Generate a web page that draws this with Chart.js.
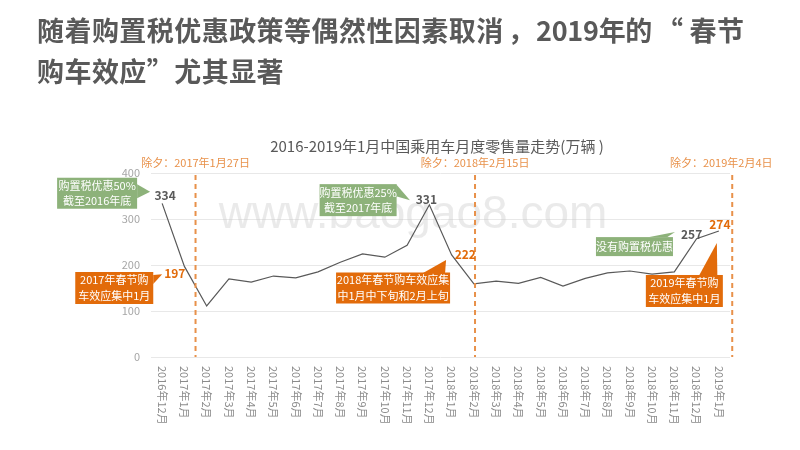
<!DOCTYPE html>
<html>
<head>
<meta charset="utf-8">
<script src="https://cdn.jsdelivr.net/npm/chart.js@4/dist/chart.umd.min.js"></script>
<style>
  body { margin: 0; background: #fff; }
  #wrap { position: relative; width: 800px; height: 450px; overflow: hidden; }
  #title {
    position: absolute; left: 37px; top: 9px;
    font-family: "Noto Sans CJK SC", sans-serif; font-weight: bold;
    font-size: 27px; line-height: 41px; color: #595959; white-space: nowrap;
    letter-spacing: 0.45px;
  }
  #title .cm { margin: 0 1px 0 4px; }
  #title .yr { letter-spacing: -0.3px; }
  #title .q { margin: 0 6px 0 4px; }
  canvas { position: absolute; left: 0; top: 0; }
</style>
</head>
<body>
<div id="wrap">
  <canvas id="chart" width="800" height="450"></canvas>
  <div id="title">随着购置税优惠政策等偶然性因素取消<span class="cm">，</span><span class="yr">2019年的</span><span class="q">“</span>春节<br>购车效应”尤其显著</div>
</div>
<script>
// 月份と販売量
const months = [
  "2016年12月", "2017年1月", "2017年2月", "2017年3月", "2017年4月", "2017年5月",
  "2017年6月", "2017年7月", "2017年8月", "2017年9月", "2017年10月", "2017年11月",
  "2017年12月", "2018年1月", "2018年2月", "2018年3月", "2018年4月", "2018年5月",
  "2018年6月", "2018年7月", "2018年8月", "2018年9月", "2018年10月", "2018年11月",
  "2018年12月", "2019年1月"
];
const sales = [334, 197, 111, 170, 163, 176, 172, 185, 206, 224, 217, 243,
               331, 222, 159, 165, 160, 173, 154, 171, 183, 187, 180, 185, 257, 274];
const yTicks = [0, 100, 200, 300, 400];

// 除夕の位置 (月のインデックス上)
const eveNames = ["除夕：2017年1月27日", "除夕：2018年2月15日", "除夕：2019年2月4日"];
const eveAt = [1.5, 14.05, 25.6];

// 数値ラベルを付ける点
const labelIdx = [0, 1, 12, 13, 24, 25];

const FONT = '"Noto Sans CJK SC", sans-serif';
const GRAY = "#595959";
const ORANGE = "#E26B0A";
const GREEN = "#8DB27A";

// ラベルの置き方
const labelStyle = {
  0:  { color: GRAY,   align: "center", dx: 3,  dy: -8 },
  1:  { color: ORANGE, align: "right",  dx: 1,  dy: 7 },
  12: { color: GRAY,   align: "center", dx: -3, dy: -5 },
  13: { color: ORANGE, align: "left",   dx: 3,  dy: 0 },
  24: { color: GRAY,   align: "center", dx: -5, dy: -4 },
  25: { color: ORANGE, align: "center", dx: 1,  dy: -7 }
};

// 吹き出し (中心と先端はデータ座標)
const callouts = [
  { lines: ["购置税优惠50%", "截至2016年底"], color: GREEN, c: [-2.92, 356], w: 80, h: 31,
    base: [[40, -9], [40, 5]], tip: [-0.54, 359] },
  { lines: ["2017年春节购", "车效应集中1月"], color: ORANGE, c: [-2.15, 150], w: 78, h: 32,
    base: [[39, -13], [39, -4]], tip: [0, 180] },
  { lines: ["购置税优惠25%", "截至2017年底"], color: GREEN, c: [8.8, 341], w: 77, h: 32,
    base: [[38, -16], [38, -4]], tip: [11.13, 341] },
  { lines: ["2018年春节购车效应集", "中1月中下旬和2月上旬"], color: ORANGE, c: [10.37, 150], w: 114, h: 31,
    base: [[30, -15], [52, -15]], tip: [12.75, 211] },
  { lines: ["没有购置税优惠"], color: GREEN, c: [21.21, 240], w: 77, h: 19,
    base: [[15, -9.5], [33, -9.5]], tip: [23.03, 272] },
  { lines: ["2019年春节购", "车效应集中1月"], color: ORANGE, c: [23.45, 143.5], w: 77, h: 32,
    base: [[15, -16], [33, -16]], tip: [24.91, 248] }
];

const extras = {
  id: "extras",
  beforeDatasetsDraw(chart) {
    const ctx = chart.ctx;
    ctx.save();
    ctx.font = "46px 'Liberation Sans', sans-serif";
    ctx.fillStyle = "rgba(200,200,200,0.38)";
    ctx.textAlign = "center";
    ctx.textBaseline = "alphabetic";
    ctx.fillText("www.baogao8.com", 413, 228);
    ctx.restore();
  },
  afterDatasetsDraw(chart) {
    const ctx = chart.ctx;
    const xs = chart.scales.x, ys = chart.scales.y;
    const px = i => xs.getPixelForValue(i);
    const py = v => ys.getPixelForValue(v);
    const area = chart.chartArea;

    ctx.save();
    // チャートタイトル
    ctx.fillStyle = GRAY;
    ctx.font = "15px " + FONT;
    ctx.textAlign = "center";
    ctx.textBaseline = "middle";
    ctx.fillText("2016-2019年1月中国乘用车月度零售量走势(万辆 )", 437, 146);

    // 除夕の点線
    ctx.strokeStyle = "#E8914A";
    ctx.lineWidth = 2;
    ctx.setLineDash([5, 4]);
    eveAt.forEach((at, k) => {
      const x = px(at);
      ctx.beginPath();
      ctx.moveTo(x, area.top + 2);
      ctx.lineTo(x, area.bottom);
      ctx.stroke();
      ctx.fillStyle = "#E8914A";
      ctx.font = "11px " + FONT;
      ctx.textAlign = "center";
      ctx.fillText(eveNames[k], k === 2 ? x - 11 : x, area.top - 10);
    });
    ctx.setLineDash([]);

    // 数値ラベル
    ctx.font = "bold 12px " + FONT;
    labelIdx.forEach(i => {
      const s = labelStyle[i];
      ctx.fillStyle = s.color;
      ctx.textAlign = s.align;
      ctx.textBaseline = "middle";
      ctx.fillText(String(sales[i]), px(i) + s.dx, py(sales[i]) + s.dy);
    });

    // 吹き出し
    callouts.forEach(b => {
      const cx = px(b.c[0]), cy = py(b.c[1]);
      ctx.fillStyle = b.color;
      ctx.fillRect(cx - b.w / 2, cy - b.h / 2, b.w, b.h);
      ctx.beginPath();
      ctx.moveTo(cx + b.base[0][0], cy + b.base[0][1]);
      ctx.lineTo(px(b.tip[0]), py(b.tip[1]));
      ctx.lineTo(cx + b.base[1][0], cy + b.base[1][1]);
      ctx.closePath();
      ctx.fill();
      ctx.fillStyle = "#fff";
      ctx.font = "11px " + FONT;
      ctx.textAlign = "center";
      ctx.textBaseline = "middle";
      const n = b.lines.length;
      b.lines.forEach((t, j) => {
        ctx.fillText(t, cx, cy + (j - (n - 1) / 2) * 15.5);
      });
    });

    // X軸ラベル (上から下へ縦書き)
    ctx.fillStyle = "#8C8C8C";
    ctx.font = "11px " + FONT;
    ctx.textAlign = "left";
    ctx.textBaseline = "middle";
    months.forEach((m, i) => {
      ctx.save();
      ctx.translate(px(i), area.bottom + 9);
      ctx.rotate(Math.PI / 2);
      ctx.fillText(m, 0, 0);
      ctx.restore();
    });
    ctx.restore();
  }
};

window.addEventListener("load", function() {
  let ctx = document.getElementById("chart").getContext("2d");
  new Chart(ctx, {
    type: "line",
    data: {
      labels: months,
      datasets: [{
        data: sales,
        borderColor: GRAY,
        borderWidth: 1.2,
        pointRadius: 0,
        tension: 0,
        fill: false
      }]
    },
    options: {
      responsive: false,
      animation: false,
      devicePixelRatio: 1,
      layout: { padding: { left: 111, right: 70, top: 173, bottom: 93 } },
      plugins: { legend: { display: false }, tooltip: { enabled: false } },
      scales: {
        x: {
          offset: true,
          grid: { display: false },
          border: { display: false },
          ticks: { display: false },
          afterFit: s => { s.height = 0; }
        },
        y: {
          min: 0, max: 400,
          afterBuildTicks: s => { s.ticks = yTicks.map(v => ({ value: v })); },
          grid: { color: "#E8E8E8", drawTicks: false },
          border: { display: false },
          ticks: { color: "#A6A6A6", font: { size: 11, family: FONT }, padding: 11 },
          afterFit: s => { s.width = 40; }
        }
      }
    },
    plugins: [extras]
  });
}, false);
</script>
</body>
</html>
